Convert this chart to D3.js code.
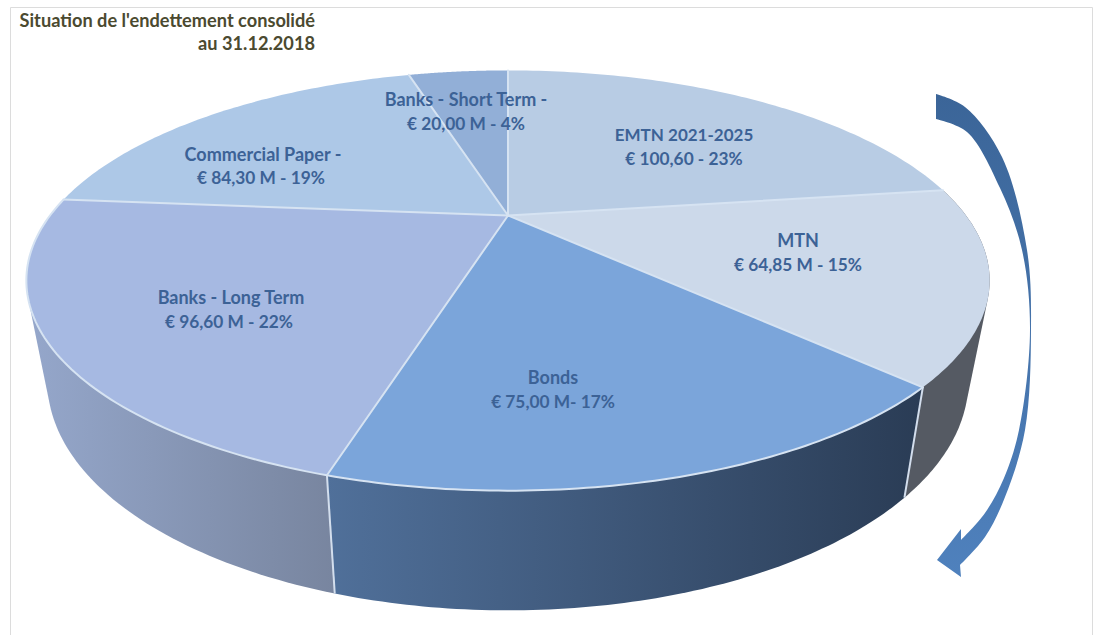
<!DOCTYPE html>
<html lang="fr">
<head>
<meta charset="utf-8">
<title>Situation de l'endettement consolidé</title>
<script src="https://cdn.jsdelivr.net/npm/d3@7/dist/d3.min.js"></script>
<style>
  html, body { margin: 0; padding: 0; background: #fff; }
  svg { display: block; }
  text { font-family: Lato, "Open Sans", sans-serif; font-weight: 700; }
</style>
</head>
<body>
<svg id="chart" width="1098" height="635"></svg>
<script>
// Debt instruments, clockwise from twelve o'clock
const categories = ["EMTN 2021-2025", "MTN", "Bonds", "Banks - Long Term", "Commercial Paper -", "Banks - Short Term -"];
const amounts = [100.6, 64.85, 75, 96.6, 84.3, 20];
const valueLabels = ["€ 100,60 - 23%", "€ 64,85 M - 15%", "€ 75,00 M- 17%", "€ 96,60 M - 22%", "€ 84,30 M - 19%", "€ 20,00 M - 4%"];

const topColors = ["#b8cce4", "#ccd9ea", "#7ba5da", "#a6b9e2", "#adc8e7", "#92afd7"];
// Only the front slices show a side wall: [left colour, right colour]
const wallColors = [null, ["#555a63", "#555a63"], ["#50709a", "#2a3c55"], ["#95a7cb", "#78859f"], null, null];

const labelCenters = [[684, 135], [798, 241], [553, 378], [231, 298], [263, 155], [466, 100]];
const valueCenters = [[684, 159], [798, 265], [553, 402], [229, 322], [261, 178], [466, 124]];

const titleLines = ["Situation de l'endettement consolidé", "au 31.12.2018"];

const width = 1098, height = 635;
const svg = d3.select("#chart");
const defs = svg.append("defs");

// Perspective of the disc: unit circle onto the tilted top face
const apex = [508, 215.5], spreadX = 458, spreadY = 190, tilt = 0.3095;
// The lower rim: narrower than the top rim but stretched vertically by the tilt
const rimCenterX = 505, rimScaleX = 0.956, rimScaleY = 1.09, rimShiftY = 75.5;

function topPoint(angle) {
  const x = Math.sin(angle), y = -Math.cos(angle), w = 1 / (1 - tilt * y);
  return [apex[0] + spreadX * x * w, apex[1] + spreadY * y * w];
}
function lowerPoint(angle) {
  const p = topPoint(angle);
  return [rimCenterX + (p[0] - rimCenterX) * rimScaleX, p[1] * rimScaleY + rimShiftY];
}

const slices = d3.pie().sort(null)(amounts);
const path = d3.line();
const arcAngles = s => d3.range(0, 81).map(i => s.startAngle + (s.endAngle - s.startAngle) * i / 80);

// Frame around the chart area
svg.append("path")
  .attr("d", `M10.5,${height} V7.5 H1092.5 V${height}`)
  .attr("fill", "none").attr("stroke", "#dcdcdc").attr("stroke-width", 1);

// Side walls: the hull of both rims also fills out to the tangent edges of the disc
const walls = svg.append("g");
slices.forEach((s, i) => {
  if (!wallColors[i]) return;
  const angles = arcAngles(s);
  const outline = d3.polygonHull(angles.map(topPoint).concat(angles.map(lowerPoint)));
  const xs = d3.extent(outline, p => p[0]);
  const id = `wall-${i}`;
  const grad = defs.append("linearGradient").attr("id", id)
    .attr("gradientUnits", "userSpaceOnUse")
    .attr("x1", xs[0]).attr("x2", xs[1]).attr("y1", 0).attr("y2", 0);
  grad.append("stop").attr("offset", 0).attr("stop-color", wallColors[i][0]);
  grad.append("stop").attr("offset", 1).attr("stop-color", wallColors[i][1]);
  walls.append("path")
    .attr("d", path(outline) + "Z")
    .attr("fill", `url(#${id})`);
});
// Light seams between the walls
slices.slice(1, 3).forEach(s => {
  walls.append("path")
    .attr("d", path([topPoint(s.endAngle), lowerPoint(s.endAngle)]))
    .attr("stroke", "#d3deed").attr("stroke-width", 2).attr("fill", "none");
});

// Top faces
const faces = svg.append("g");
faces.selectAll("path").data(slices).join("path")
  .attr("d", s => path([apex].concat(arcAngles(s).map(topPoint))) + "Z")
  .attr("fill", (s, i) => topColors[i]);

// Pale rim on the slices that have a wall, and radial seams on every slice
const seams = svg.append("g").attr("fill", "none").attr("stroke", "#d6e3f2").attr("stroke-width", 2).attr("stroke-linecap", "round");
slices.forEach((s, i) => {
  if (wallColors[i] && i > 1) seams.append("path").attr("d", path(arcAngles(s).map(topPoint)));
  seams.append("path").attr("d", path([apex, topPoint(s.endAngle)]));
});

// Slice labels
const labels = svg.append("g").attr("fill", "#3c6296").attr("text-anchor", "middle");
categories.forEach((c, i) => {
  labels.append("text").attr("x", labelCenters[i][0]).attr("y", labelCenters[i][1] + 6)
    .attr("font-size", i === 0 ? 17 : 18).text(c);
  labels.append("text").attr("x", valueCenters[i][0]).attr("y", valueCenters[i][1] + 6)
    .attr("font-size", 17.3).text(valueLabels[i]);
});

// Title, right-aligned on two lines
svg.append("g").attr("fill", "#4b4a30").attr("font-size", 18.2).attr("text-anchor", "end")
  .selectAll("text").data(titleLines).join("text")
  .attr("x", 315).attr("y", (d, i) => 27 + i * 23).text(d => d);

// Curved arrow showing the reading direction
const arrowOuter = [[936, 94], [965, 107], [1002, 157], [1027, 250], [1031, 330], [1025, 430], [1005, 497], [985, 537], [960, 565]];
const arrowInner = [[961, 540], [985, 513], [1004, 478], [1019, 430], [1030, 330], [1022, 250], [1000, 188], [967, 132], [936, 119]];
const arrowHead = [[961, 577], [937, 560], [961, 529]];
const curve = d3.line().curve(d3.curveCatmullRom.alpha(0.5));
const arrowGrad = defs.append("linearGradient").attr("id", "arrow-fill")
  .attr("gradientUnits", "userSpaceOnUse").attr("x1", 0).attr("x2", 0).attr("y1", 94).attr("y2", 577);
arrowGrad.append("stop").attr("offset", 0).attr("stop-color", "#3b6598");
arrowGrad.append("stop").attr("offset", 1).attr("stop-color", "#4f81bd");
svg.append("path")
  .attr("d", curve(arrowOuter) + "L" + arrowHead.join("L") + "L" + curve(arrowInner).slice(1) + "Z")
  .attr("fill", "url(#arrow-fill)");
</script>
</body>
</html>
